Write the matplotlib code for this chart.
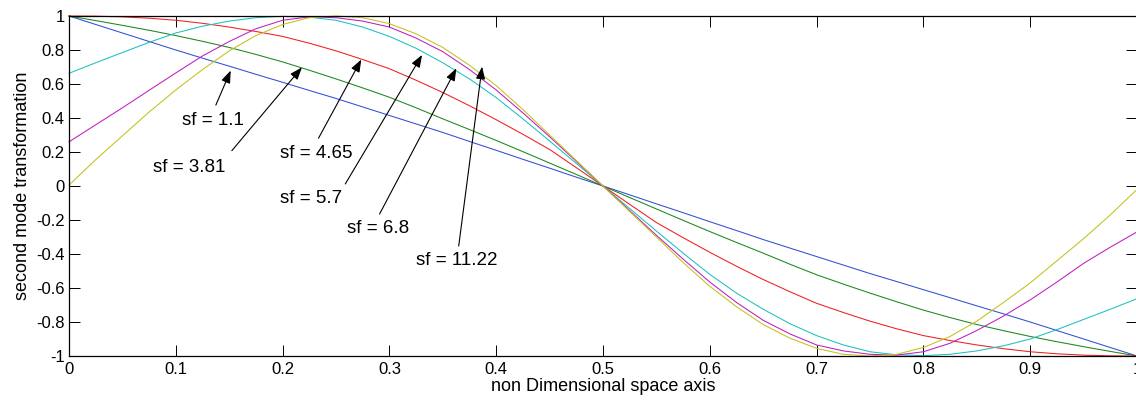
import numpy as np
import matplotlib
matplotlib.use("Agg")
import matplotlib.pyplot as plt

plt.rcParams["font.family"] = ["Liberation Sans", "DejaVu Sans"]

# --- second mode shapes, sampled along the span (step 0.025) ---
x = np.linspace(0, 1, 41)

mode_sf_1_1 = [1.0, 0.95, 0.90, 0.85, 0.80, 0.752, 0.705, 0.657, 0.61, 0.562, 0.515,
               0.465, 0.415, 0.365, 0.315, 0.262, 0.21, 0.157, 0.105, 0.052, 0.0,
               -0.052, -0.105, -0.157, -0.21, -0.262, -0.315, -0.365, -0.415, -0.465, -0.515,
               -0.562, -0.61, -0.657, -0.705, -0.752, -0.80, -0.85, -0.90, -0.95, -1.0]
mode_sf_3_81 = [1.0, 0.973, 0.945, 0.916, 0.885, 0.851, 0.815, 0.774, 0.73, 0.681, 0.63,
                0.577, 0.522, 0.46, 0.395, 0.332, 0.268, 0.202, 0.135, 0.068, 0.0,
                -0.068, -0.135, -0.202, -0.268, -0.332, -0.395, -0.46, -0.522, -0.577, -0.63,
                -0.681, -0.73, -0.774, -0.815, -0.851, -0.885, -0.916, -0.945, -0.973, -1.0]
mode_sf_4_65 = [1.0, 0.999, 0.995, 0.987, 0.975, 0.957, 0.935, 0.909, 0.88, 0.84, 0.795,
                0.744, 0.69, 0.622, 0.55, 0.472, 0.39, 0.304, 0.215, 0.108, 0.0,
                -0.108, -0.215, -0.304, -0.39, -0.472, -0.55, -0.622, -0.69, -0.744, -0.795,
                -0.84, -0.88, -0.909, -0.935, -0.957, -0.975, -0.987, -0.995, -0.999, -1.0]
mode_sf_5_7 = [0.663, 0.725, 0.785, 0.845, 0.90, 0.94, 0.97, 0.99, 0.998, 0.993, 0.975,
               0.935, 0.88, 0.81, 0.725, 0.63, 0.52, 0.395, 0.265, 0.133, 0.0,
               -0.133, -0.265, -0.395, -0.52, -0.63, -0.725, -0.81, -0.88, -0.935, -0.975,
               -0.993, -0.998, -0.99, -0.97, -0.94, -0.90, -0.845, -0.785, -0.725, -0.663]
mode_sf_6_8 = [0.26, 0.36, 0.46, 0.563, 0.665, 0.765, 0.85, 0.925, 0.975, 0.995, 0.99,
               0.97, 0.935, 0.87, 0.79, 0.685, 0.565, 0.43, 0.29, 0.145, 0.0,
               -0.145, -0.29, -0.43, -0.565, -0.685, -0.79, -0.87, -0.935, -0.97, -0.99,
               -0.995, -0.975, -0.925, -0.85, -0.765, -0.67, -0.565, -0.455, -0.36, -0.27]
mode_sf_11_22 = [0.005, 0.155, 0.295, 0.435, 0.565, 0.685, 0.795, 0.885, 0.95, 0.99, 1.0,
                 0.99, 0.955, 0.895, 0.815, 0.71, 0.59, 0.45, 0.30, 0.15, 0.0,
                 -0.15, -0.30, -0.45, -0.59, -0.71, -0.815, -0.895, -0.955, -0.99, -1.0,
                 -0.99, -0.95, -0.885, -0.795, -0.685, -0.57, -0.44, -0.31, -0.17, -0.02]

modes = [mode_sf_1_1, mode_sf_3_81, mode_sf_4_65, mode_sf_5_7, mode_sf_6_8, mode_sf_11_22]
# classic b, g, r, c, m, y line colours
colors = ["#2f4fd2", "#1a871a", "#f01e1e", "#1cc0c0", "#c01cc0", "#c2c21a"]

sf_labels = ["sf = 1.1", "sf = 3.81", "sf = 4.65", "sf = 5.7", "sf = 6.8", "sf = 11.22"]
arrow_tips = [(0.1514, 0.679), (0.2181, 0.698), (0.2737, 0.744),
              (0.3306, 0.771), (0.3627, 0.692), (0.3868, 0.702)]
arrow_tails = [(0.1375, 0.476), (0.1525, 0.208), (0.2336, 0.281),
               (0.2587, 0.012), (0.2908, -0.165), (0.3649, -0.353)]
label_pos = [(0.1352, 0.359), (0.1126, 0.084), (0.2318, 0.163),
             (0.2267, -0.102), (0.2891, -0.278), (0.3633, -0.465)]

xticks = [0, 0.1, 0.2, 0.3, 0.4, 0.5, 0.6, 0.7, 0.8, 0.9, 1]
xticklabels = ["0", "0.1", "0.2", "0.3", "0.4", "0.5", "0.6", "0.7", "0.8", "0.9", "1"]
yticks = [1, 0.8, 0.6, 0.4, 0.2, 0, -0.2, -0.4, -0.6, -0.8, -1]
yticklabels = ["1", "0.8", "0.6", "0.4", "0.2", "0", "-0.2", "-0.4", "-0.6", "-0.8", "-1"]

fig = plt.figure(figsize=(11.36, 4.04), dpi=100)
ax = fig.add_axes([69 / 1136, 48 / 404, 1068 / 1136, 340 / 404])

for y, c in zip(modes, colors):
    ax.plot(x, y, color=c, lw=0.75, clip_on=False)

for lab, tip, tail, pos in zip(sf_labels, arrow_tips, arrow_tails, label_pos):
    ax.annotate("", xy=tip, xytext=tail,
                arrowprops=dict(arrowstyle="-|>,head_length=0.75,head_width=0.28",
                                color="k", lw=0.8, shrinkA=0, shrinkB=0,
                                mutation_scale=10))
    ax.text(pos[0], pos[1], lab, ha="center", va="baseline", fontsize=13.5)

ax.set_xlim(0, 1)
ax.set_ylim(-1, 1)
ax.set_xticks(xticks)
ax.set_xticklabels(xticklabels)
ax.set_yticks(yticks)
ax.set_yticklabels(yticklabels)
ax.tick_params(direction="in", length=7.7, width=0.7, top=True, right=True,
               labelsize=12)
ax.tick_params(axis="x", pad=4)
ax.tick_params(axis="y", pad=3)
for s in ax.spines.values():
    s.set_linewidth(0.9)

ax.set_xlabel("non Dimensional space axis", fontsize=13, labelpad=1)
ax.set_ylabel("second mode transformation", fontsize=13, labelpad=4)

fig.savefig("out.png", dpi=100)
